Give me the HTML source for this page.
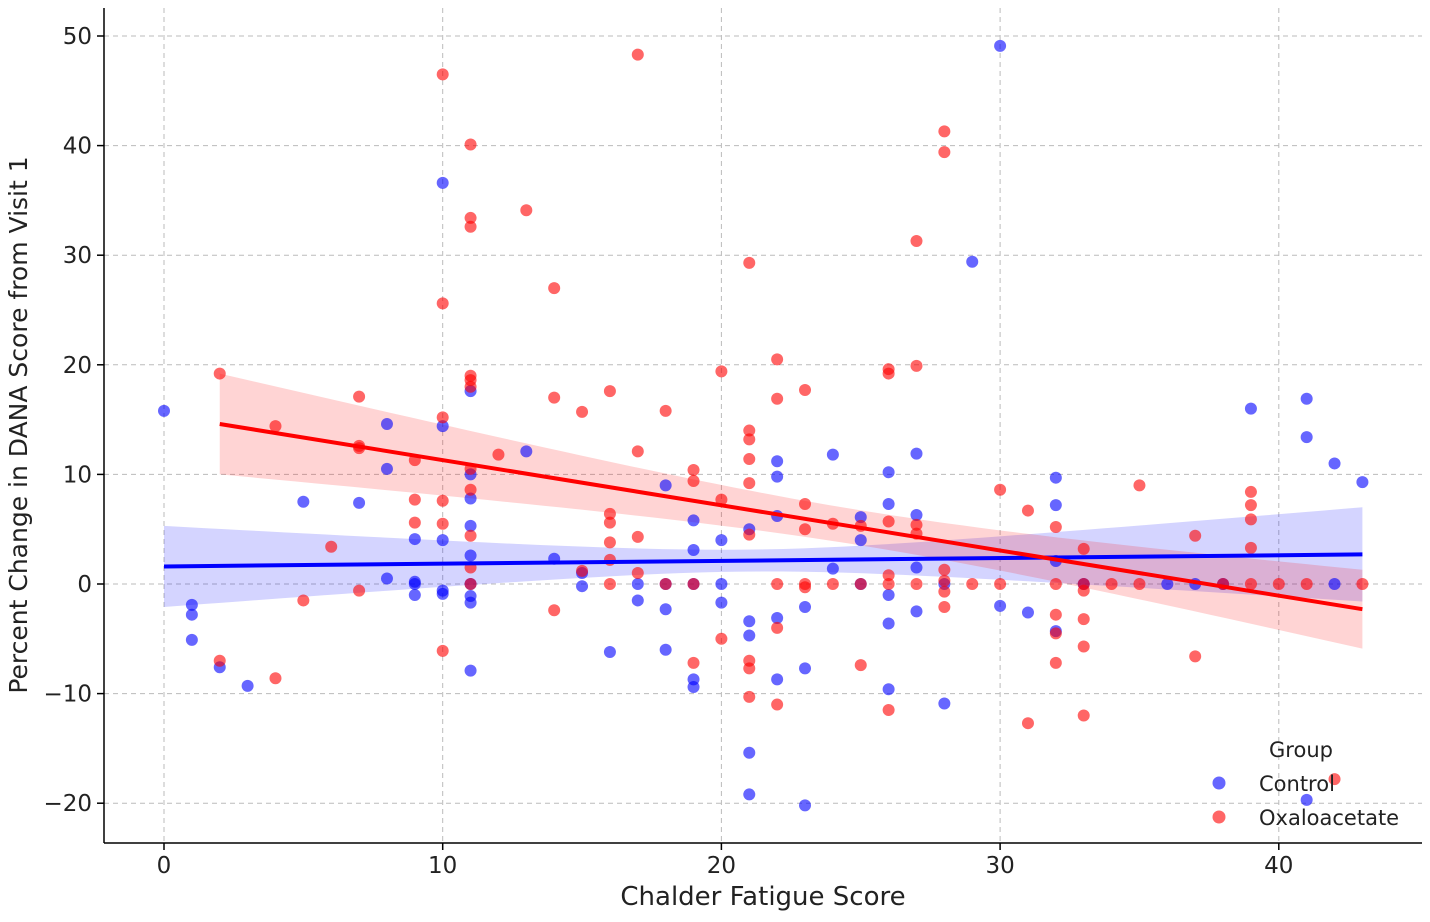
<!DOCTYPE html>
<html><head><meta charset="utf-8"><style>
body{margin:0;background:#fff}
svg text{font-family:"DejaVu Sans","Liberation Sans",sans-serif;fill:#222}
</style></head><body>
<svg id="chart" width="1430" height="917" viewBox="0 0 1430 917" xmlns="http://www.w3.org/2000/svg">
<g id="grid"></g>
<g id="bands"></g>
<g id="pts"></g>
<g id="lines"></g>
<g id="axes"></g>
<text x="763" y="905" font-size="26" text-anchor="middle">Chalder Fatigue Score</text>
<text transform="translate(27,425) rotate(-90)" font-size="25" text-anchor="middle">Percent Change in DANA Score from Visit 1</text>
<g>
<text x="1301" y="757" font-size="21" text-anchor="middle">Group</text>
<circle cx="1219" cy="783" r="6.5" fill="rgba(0,0,255,0.6)"/>
<text x="1259" y="791" font-size="21">Control</text>
<circle cx="1219" cy="817" r="6.5" fill="rgba(255,0,0,0.6)"/>
<text x="1259" y="825" font-size="21">Oxaloacetate</text>
</g>
</svg>
<script>
const xTicks=[0,10,20,30,40];
const yTicks=[-20,-10,0,10,20,30,40,50];
const controlX=[0,1,1,1,2,3,5,7,8,8,8,9,9,9,9,10,10,10,10,10,11,11,11,11,11,11,11,11,11,13,14,15,15,16,17,17,18,18,18,18,19,19,19,19,19,20,20,20,21,21,21,21,21,22,22,22,22,22,23,23,23,24,24,25,25,25,26,26,26,26,26,27,27,27,27,28,28,29,30,30,31,32,32,32,32,33,36,37,38,39,41,41,41,42,42,43];
const controlY=[15.8,-1.9,-2.8,-5.1,-7.6,-9.3,7.5,7.4,14.6,10.5,0.5,4.1,0.2,0,-1,36.6,14.4,4,-0.6,-0.9,17.6,10,7.8,5.3,2.6,0,-1.1,-1.7,-7.9,12.1,2.3,-0.2,1,-6.2,-1.5,0,9,-2.3,-6,0,5.8,3.1,-8.7,-9.4,0,4,0,-1.7,5,-3.4,-4.7,-15.4,-19.2,11.2,9.8,6.2,-3.1,-8.7,-2.1,-7.7,-20.2,11.8,1.4,6.1,4,0,10.2,7.3,-1,-3.6,-9.6,11.9,6.3,1.5,-2.5,-10.9,0,29.4,49.1,-2,-2.6,9.7,7.2,2.1,-4.3,0,0,0,0,16,16.9,13.4,-19.7,11,0,9.3];
const oxaX=[2,2,4,4,5,6,7,7,7,7,9,9,9,10,10,10,10,10,10,11,11,11,11,11,11,11,11,11,11,11,12,13,14,14,14,15,15,16,16,16,16,16,16,17,17,17,17,18,18,19,19,19,19,20,20,20,21,21,21,21,21,21,21,21,21,22,22,22,22,22,23,23,23,23,23,24,24,25,25,25,26,26,26,26,26,26,27,27,27,27,27,28,28,28,28,28,28,29,30,30,31,31,32,32,32,32,32,33,33,33,33,33,33,34,35,35,37,37,38,39,39,39,39,39,40,41,42,43];
const oxaY=[19.2,-7,14.4,-8.6,-1.5,3.4,17.1,12.6,12.4,-0.6,11.3,7.7,5.6,46.5,25.6,15.2,7.6,5.5,-6.1,40.1,33.4,32.6,19,18.6,18,10.5,8.6,4.4,1.5,0,11.8,34.1,27,17,-2.4,15.7,1.2,17.6,6.4,5.6,3.8,2.2,0,48.3,12.1,4.3,1,15.8,0,10.4,9.4,-7.2,0,19.4,7.7,-5,29.3,14,13.2,11.4,9.2,4.5,-7,-7.7,-10.3,20.5,16.9,0,-4,-11,17.7,7.3,5,0,-0.3,5.5,0,5.3,-7.4,0,19.6,19.2,5.7,0.8,0,-11.5,31.3,19.9,5.4,4.6,0,41.3,39.4,1.3,0.3,-0.7,-2.1,0,8.6,0,6.7,-12.7,5.2,0,-2.8,-4.5,-7.2,3.2,0,-0.6,-3.2,-5.7,-12,0,9,0,4.4,-6.6,0,8.4,7.2,5.9,3.3,0,0,0,-17.8,0];
const controlFit=[0,1.6,43,2.7];
const controlCI=[3.7,1.0,4.3];const controlCIc=21;
const oxaFit=[2,14.6,43,-2.3];
const oxaCI=[4.6,1.6,3.6];const oxaCIc=25;

const NS="http://www.w3.org/2000/svg";
const X=v=>164+v*27.87, Y=v=>584-v*10.96;
const L=104,R=1422,T=8,B=843;
function mk(tag,attrs,parent){const e=document.createElementNS(NS,tag);for(const k in attrs)e.setAttribute(k,attrs[k]);parent.appendChild(e);return e;}
const grid=document.getElementById('grid'),axes=document.getElementById('axes');
xTicks.forEach(t=>{
 const g=mk('line',{x1:X(t),x2:X(t),y1:T,y2:B,stroke:'#bbb','stroke-dasharray':'5,4','stroke-width':1},grid);
 
 const tk=mk('line',{x1:X(t),x2:X(t),y1:B,y2:B+7,stroke:'#000','stroke-width':1.5},axes);
 
 const tx=mk('text',{x:X(t),y:B+30,'font-size':23,'text-anchor':'middle'},axes);tx.textContent=t;
 
});
yTicks.forEach(t=>{
 const g=mk('line',{x1:L,x2:R,y1:Y(t),y2:Y(t),stroke:'#bbb','stroke-dasharray':'5,4','stroke-width':1},grid);
 
 const tk=mk('line',{x1:L-7,x2:L,y1:Y(t),y2:Y(t),stroke:'#000','stroke-width':1.5},axes);
 
 const tx=mk('text',{x:L-12,y:Y(t)+8,'font-size':23,'text-anchor':'end'},axes);tx.textContent=(t<0?'\u2212'+(-t):t);
 
});
const sp1=mk('line',{x1:L,x2:L,y1:T,y2:B,stroke:'#000','stroke-width':1.5},axes);

const sp2=mk('line',{x1:L,x2:R,y1:B,y2:B,stroke:'#000','stroke-width':1.5},axes);


function band(fit,ci,c,color,name){
 const [x0,y0,x1,y1]=fit;const f=x=>y0+(y1-y0)*(x-x0)/(x1-x0);
 const hw=x=>{const a=ci[1]*ci[1];const k=x<c?(ci[0]*ci[0]-a)/((x0-c)**2):(ci[2]*ci[2]-a)/((x1-c)**2);return Math.sqrt(a+k*(x-c)**2);};
 let up=[],lo=[];
 for(let i=0;i<=60;i++){const x=x0+(x1-x0)*i/60;up.push(X(x)+','+Y(f(x)+hw(x)));lo.unshift(X(x)+','+Y(f(x)-hw(x)));}
 const p=mk('polygon',{points:up.concat(lo).join(' '),fill:color},document.getElementById('bands'));
 
}
band(controlFit,controlCI,controlCIc,'rgba(0,0,255,0.17)','control-ci-band');
band(oxaFit,oxaCI,oxaCIc,'rgba(255,0,0,0.17)','oxaloacetate-ci-band');
const pts=document.getElementById('pts');
controlX.forEach((x,i)=>{const c=mk('circle',{cx:X(x),cy:Y(controlY[i]),r:6,fill:'rgba(0,0,255,0.6)'},pts);
 });
oxaX.forEach((x,i)=>{const c=mk('circle',{cx:X(x),cy:Y(oxaY[i]),r:6,fill:'rgba(255,0,0,0.6)'},pts);
 });
const lines=document.getElementById('lines');
const l1=mk('line',{x1:X(controlFit[0]),y1:Y(controlFit[1]),x2:X(controlFit[2]),y2:Y(controlFit[3]),stroke:'#0000ff','stroke-width':4},lines);

const l2=mk('line',{x1:X(oxaFit[0]),y1:Y(oxaFit[1]),x2:X(oxaFit[2]),y2:Y(oxaFit[3]),stroke:'#ff0000','stroke-width':4},lines);

</script>
</body></html>
